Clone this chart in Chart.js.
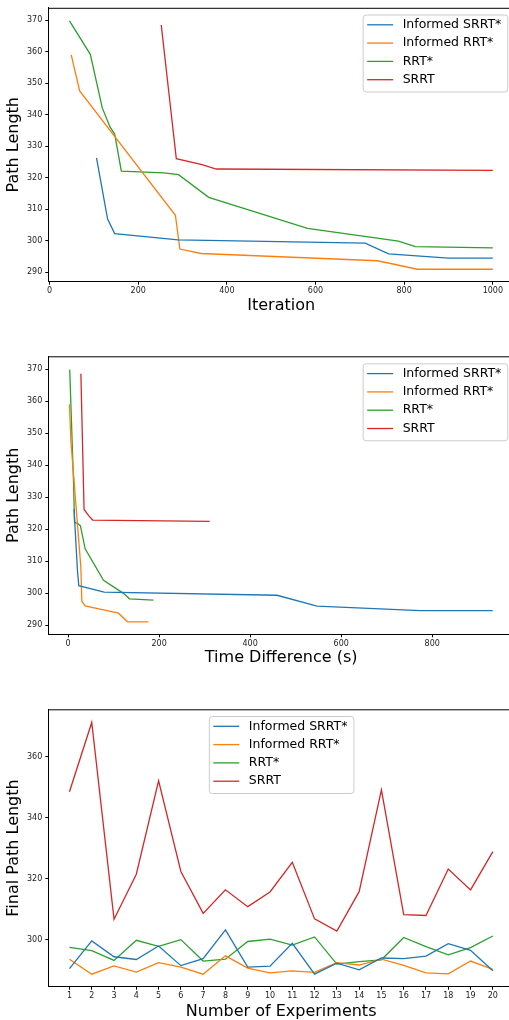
<!DOCTYPE html>
<html>
<head>
<meta charset="utf-8">
<script src="https://cdn.jsdelivr.net/npm/chart.js@4.4.1/dist/chart.umd.min.js"></script>
<style>
  html, body { margin: 0; padding: 0; background: #fff; overflow: hidden; width: 509px; height: 1020px; }
  .panel { position: absolute; left: 0; }
</style>
</head>
<body>
<div class="panel" style="top:0"><canvas id="iterChart" width="520" height="320"></canvas></div>
<div class="panel" style="top:340px"><canvas id="timeChart" width="520" height="340"></canvas></div>
<div class="panel" style="top:680px"><canvas id="finalChart" width="520" height="340"></canvas></div>
<script>
// series names and colours (matplotlib tab10)
const names = ['Informed SRRT*', 'Informed RRT*', 'RRT*', 'SRRT'];
const colors = ['#1f77b4', '#ff7f0e', '#2ca02c', '#d62728'];

// convergence curves: path length at each improvement
const lenInfSRRT = [326.3, 306.9, 302.3, 300.3, 299.3, 295.9, 294.5, 294.5];
const lenInfRRT  = [359.0, 347.6, 308.1, 297.4, 296.0, 293.7, 291.0, 291.0];
const lenRRT     = [369.8, 359.2, 342.2, 336.0, 333.9, 322.1, 321.6, 321.0, 313.8, 304.0, 299.9, 298.2, 297.8];
const lenSRRT    = [368.5, 326.1, 324.2, 322.8, 322.4];

// iteration at which each improvement happened
const iterInfSRRT = [106, 131, 147, 290, 712, 765, 900, 1000];
const iterInfRRT  = [49, 68, 284, 294, 342, 740, 830, 1000];
const iterRRT     = [45, 92, 119, 137, 147, 162, 258, 291, 359, 582, 787, 825, 1000];
const iterSRRT    = [252, 286, 344, 376, 1000];

// elapsed time (s) of each improvement
const timeInfSRRT = [13, 20.5, 23.4, 79, 459, 547, 774, 933];
const timeInfRRT  = [2.9, 6, 27.9, 30.1, 37.4, 110.6, 130.4, 176.5];
const timeRRT     = [3.5, 6, 10, 11.5, 12, 14, 22, 27, 37.4, 77.7, 121.6, 134.8, 187.5];
const timeSRRT    = [28, 35, 45, 54, 311];

// final path length per experiment
const experiments = [1, 2, 3, 4, 5, 6, 7, 8, 9, 10, 11, 12, 13, 14, 15, 16, 17, 18, 19, 20];
const finalInfSRRT = [290.6, 299.7, 294.5, 293.6, 298.0, 291.6, 293.9, 303.3, 291.1, 291.4, 298.9, 288.8, 292.4, 290.2, 294.1, 293.9, 294.7, 298.8, 296.6, 289.9];
const finalInfRRT  = [293.7, 288.8, 291.5, 289.5, 292.6, 291.1, 288.8, 294.8, 290.8, 289.2, 289.9, 289.4, 292.6, 291.8, 293.7, 291.7, 289.2, 288.9, 293.1, 290.4];
const finalRRT     = [297.6, 296.5, 293.3, 299.9, 297.9, 300.1, 293.1, 293.7, 299.5, 300.3, 298.3, 301.0, 292.1, 292.9, 293.5, 300.8, 297.8, 295.1, 297.5, 301.3];
const finalSRRT    = [348.5, 371.2, 306.8, 321.5, 352.1, 322.4, 308.7, 316.4, 310.9, 315.7, 325.4, 306.9, 302.9, 315.8, 349.1, 308.3, 308.0, 323.2, 316.4, 328.9];

// tick labels
const iterTicks = [0, 200, 400, 600, 800, 1000];
const timeTicks = [0, 200, 400, 600, 800];
const lenTicks = [290, 300, 310, 320, 330, 340, 350, 360, 370];
const finalTicks = [300, 320, 340, 360];

const FONT = '"DejaVu Sans", sans-serif';

function zip(xs, ys) {
    return xs.map((x, i) => ({ x: x, y: ys[i] }));
}

function makeSets(xLists, yLists) {
    return names.map((n, i) => ({
        label: n,
        data: zip(xLists[i], yLists[i]),
        borderColor: colors[i],
        backgroundColor: colors[i],
        borderWidth: 1.3,
        pointRadius: 0,
        tension: 0,
        fill: false
    }));
}

// top/right spines like matplotlib
const framePlugin = {
    id: 'frame',
    afterDraw(chart) {
        const { ctx, chartArea: a } = chart;
        ctx.save();
        ctx.strokeStyle = '#000';
        ctx.lineWidth = 1;
        ctx.beginPath();
        ctx.moveTo(a.left, a.top + 0.5);
        ctx.lineTo(a.right, a.top + 0.5);
        ctx.lineTo(a.right, a.bottom);
        ctx.stroke();
        ctx.restore();
    }
};

// legend box drawn inside the plot
const boxLegend = {
    id: 'boxLegend',
    afterDraw(chart, args, opts) {
        const { ctx, chartArea: a } = chart;
        const sets = chart.data.datasets;
        ctx.save();
        ctx.font = '12.5px ' + FONT;
        const textW = Math.max(...sets.map(d => ctx.measureText(d.label).width));
        const w = 40 + textW + 6;
        const h = 77;
        const x = opts.center ? (a.left + a.right) / 2 - w / 2 : a.right - 6.7 - w;
        const y = a.top + opts.top;
        ctx.fillStyle = 'rgba(255,255,255,0.8)';
        ctx.strokeStyle = '#cccccc';
        ctx.lineWidth = 1;
        ctx.beginPath();
        ctx.roundRect(x + 0.5, y + 0.5, w, h, 3);
        ctx.fill();
        ctx.stroke();
        sets.forEach((d, i) => {
            const ry = y + 10.3 + i * 18.3;
            ctx.strokeStyle = d.borderColor;
            ctx.lineWidth = 1.3;
            ctx.beginPath();
            ctx.moveTo(x + 4.5, ry);
            ctx.lineTo(x + 30.5, ry);
            ctx.stroke();
            ctx.fillStyle = '#000';
            ctx.textBaseline = 'middle';
            ctx.fillText(d.label, x + 40, ry);
        });
        ctx.restore();
    }
};

function axisOpts(cfg) {
    const tickFont = { family: FONT, size: 8 };
    const grid = { drawOnChartArea: false, drawTicks: true, tickLength: 3, tickColor: '#000' };
    const plain = v => String(v);
    return {
        x: {
            type: 'linear',
            min: cfg.xMin, max: cfg.xMax,
            afterBuildTicks: s => { s.ticks = cfg.xTicks.map(v => ({ value: v })); },
            afterFit: s => { s.height = cfg.xHeight; },
            ticks: { font: tickFont, color: '#222', padding: 1.5, maxRotation: 0, autoSkip: false, callback: plain },
            grid: grid,
            border: { display: true, color: '#000', width: 1 },
            title: {
                display: true, text: cfg.xTitle, color: '#000',
                font: { family: FONT, size: 16, lineHeight: 1 },
                padding: { top: 0, bottom: cfg.xTitlePad }
            }
        },
        y: {
            type: 'linear',
            min: cfg.yMin, max: cfg.yMax,
            afterBuildTicks: s => { s.ticks = cfg.yTicks.map(v => ({ value: v })); },
            afterFit: s => { s.width = 48.3; },
            ticks: { font: tickFont, color: '#222', padding: 3, autoSkip: false, callback: plain },
            grid: grid,
            border: { display: true, color: '#000', width: 1 },
            title: {
                display: true, text: cfg.yTitle, color: '#000',
                font: { family: FONT, size: 16, lineHeight: 1 },
                padding: { top: 6, bottom: 0 }
            }
        }
    };
}

function drawChart(id, sets, cfg, legendOpts) {
    return new Chart(document.getElementById(id), {
        type: 'line',
        data: { datasets: sets },
        options: {
            responsive: false,
            animation: false,
            layout: { padding: { top: cfg.padTop, right: 6, bottom: 0, left: 0 } },
            scales: axisOpts(cfg),
            plugins: {
                legend: { display: false },
                tooltip: { enabled: false },
                boxLegend: legendOpts
            }
        },
        plugins: [framePlugin, boxLegend]
    });
}

drawChart('iterChart',
    makeSets([iterInfSRRT, iterInfRRT, iterRRT, iterSRRT], [lenInfSRRT, lenInfRRT, lenRRT, lenSRRT]),
    { xMin: -2.75, xMax: 1047.75, xTicks: iterTicks, yMin: 287.05, yMax: 373.95, yTicks: lenTicks,
      xTitle: 'Iteration', yTitle: 'Path Length', xHeight: 38.3, xTitlePad: 6, padTop: 4 },
    { top: 6.7, center: false });

drawChart('timeChart',
    makeSets([timeInfSRRT, timeInfRRT, timeRRT, timeSRRT], [lenInfSRRT, lenInfRRT, lenRRT, lenSRRT]),
    { xMin: -43.6, xMax: 979.8, xTicks: timeTicks, yMin: 287.1, yMax: 373.97, yTicks: lenTicks,
      xTitle: 'Time Difference (s)', yTitle: 'Path Length', xHeight: 45.7, xTitlePad: 13.7, padTop: 16.3 },
    { top: 7, center: false });

drawChart('finalChart',
    makeSets([experiments, experiments, experiments, experiments], [finalInfSRRT, finalInfRRT, finalRRT, finalSRRT]),
    { xMin: 0.05, xMax: 20.95, xTicks: experiments, yMin: 284.7, yMax: 375.5, yTicks: finalTicks,
      xTitle: 'Number of Experiments', yTitle: 'Final Path Length', xHeight: 33.3, xTitlePad: 0.3, padTop: 29.3 },
    { top: 6.7, center: true });
</script>
</body>
</html>
